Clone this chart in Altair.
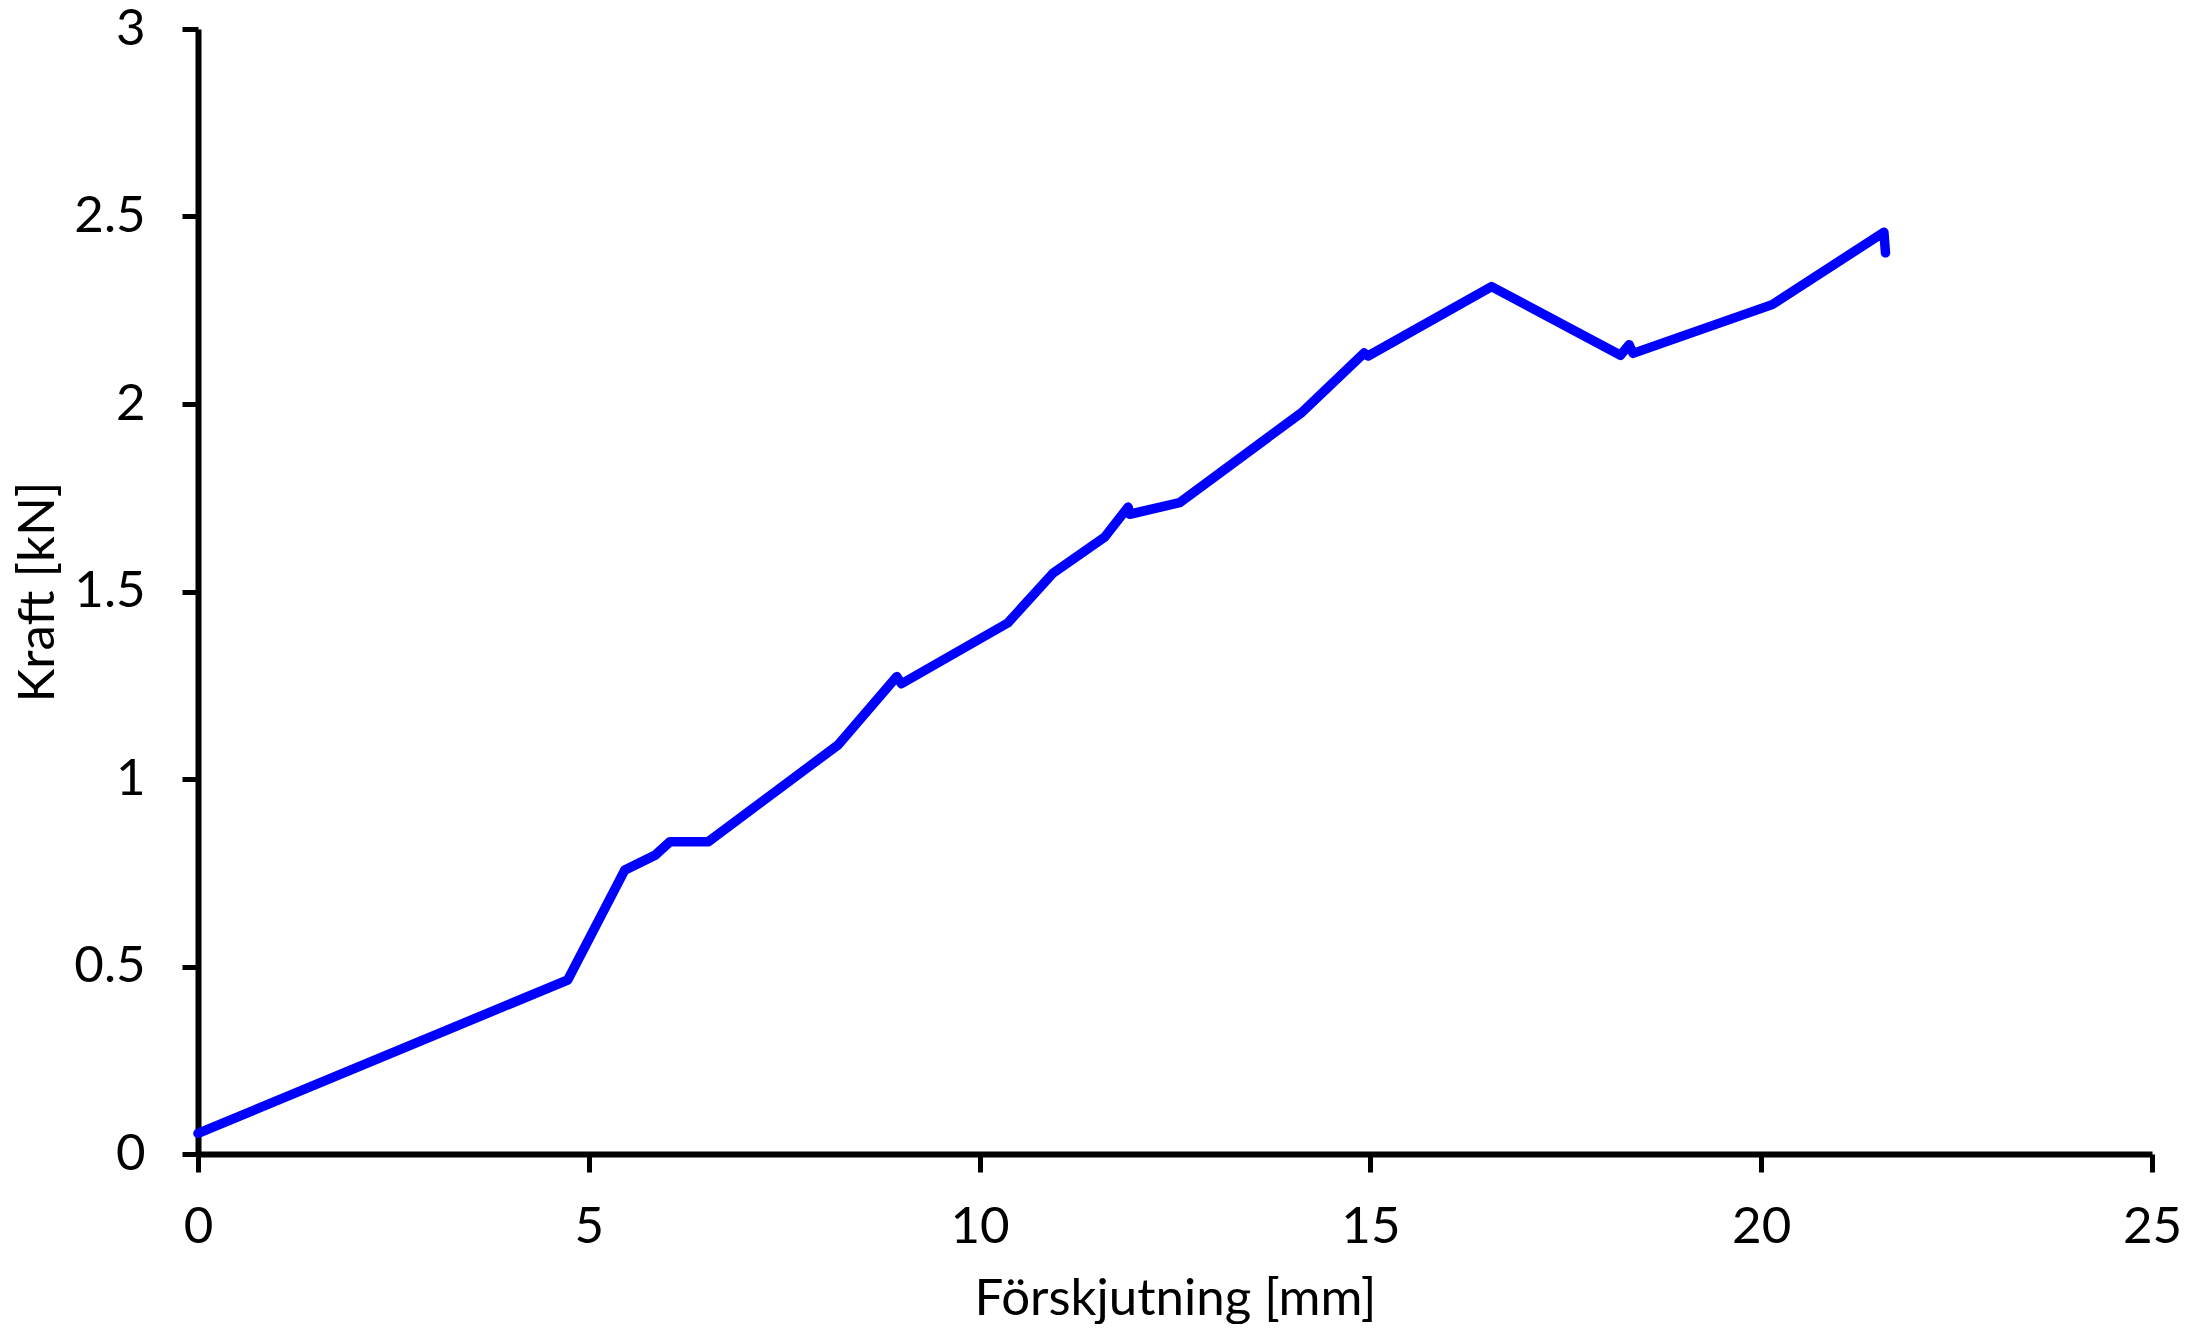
import altair as alt
import pandas as pd

disp_mm = [0, 4.73, 5.46, 5.85, 6.04, 6.53, 8.19, 8.94, 9.0, 10.36, 10.94, 11.6,
           11.9, 11.92, 12.56, 14.12, 14.92, 14.97, 16.55, 18.2, 18.31, 18.36,
           20.14, 21.57, 21.59]
force_kn = [0.055, 0.464, 0.757, 0.797, 0.833, 0.833, 1.091, 1.273, 1.254, 1.416,
            1.549, 1.645, 1.725, 1.706, 1.737, 1.977, 2.136, 2.128, 2.313, 2.13,
            2.158, 2.135, 2.265, 2.458, 2.403]
x_ticks = [0, 5, 10, 15, 20, 25]
y_ticks = [0, 0.5, 1, 1.5, 2, 2.5, 3]

df = pd.DataFrame({"x": disp_mm, "y": force_kn, "order": list(range(len(disp_mm)))})

FONT = "Lato"
FS = 51

chart = alt.Chart(df).mark_line(
    color="#0000FF", strokeWidth=9.5, strokeCap="round", strokeJoin="round"
).encode(
    x=alt.X("x:Q", scale=alt.Scale(domain=[0, 25], nice=False),
            axis=alt.Axis(values=x_ticks, title="Förskjutning [mm]", grid=False,
                          format="~g", labelFlush=False,
                          domainColor="black", domainWidth=6, tickColor="black",
                          tickWidth=5, tickSize=18, labelPadding=30,
                          labelFont=FONT, labelFontSize=FS, labelColor="black",
                          titleFont=FONT, titleFontSize=FS, titleColor="black",
                          titleFontWeight="normal", titlePadding=22)),
    y=alt.Y("y:Q", scale=alt.Scale(domain=[0, 3], nice=False),
            axis=alt.Axis(values=y_ticks, title="Kraft [kN]", grid=False,
                          format="~g", labelFlush=False,
                          domainColor="black", domainWidth=6, tickColor="black",
                          tickWidth=5, tickSize=16, labelPadding=37,
                          labelFont=FONT, labelFontSize=FS, labelColor="black",
                          titleFont=FONT, titleFontSize=FS, titleColor="black",
                          titleFontWeight="normal", titlePadding=9)),
    order="order:Q",
).properties(
    width=1954, height=1125,
    autosize=alt.AutoSizeParams(type="none"),
    padding={"left": 190, "top": 21, "right": 30, "bottom": 170},
).configure_view(stroke=None)

chart.save("out.html", embed_options={"renderer": "svg", "actions": False})
